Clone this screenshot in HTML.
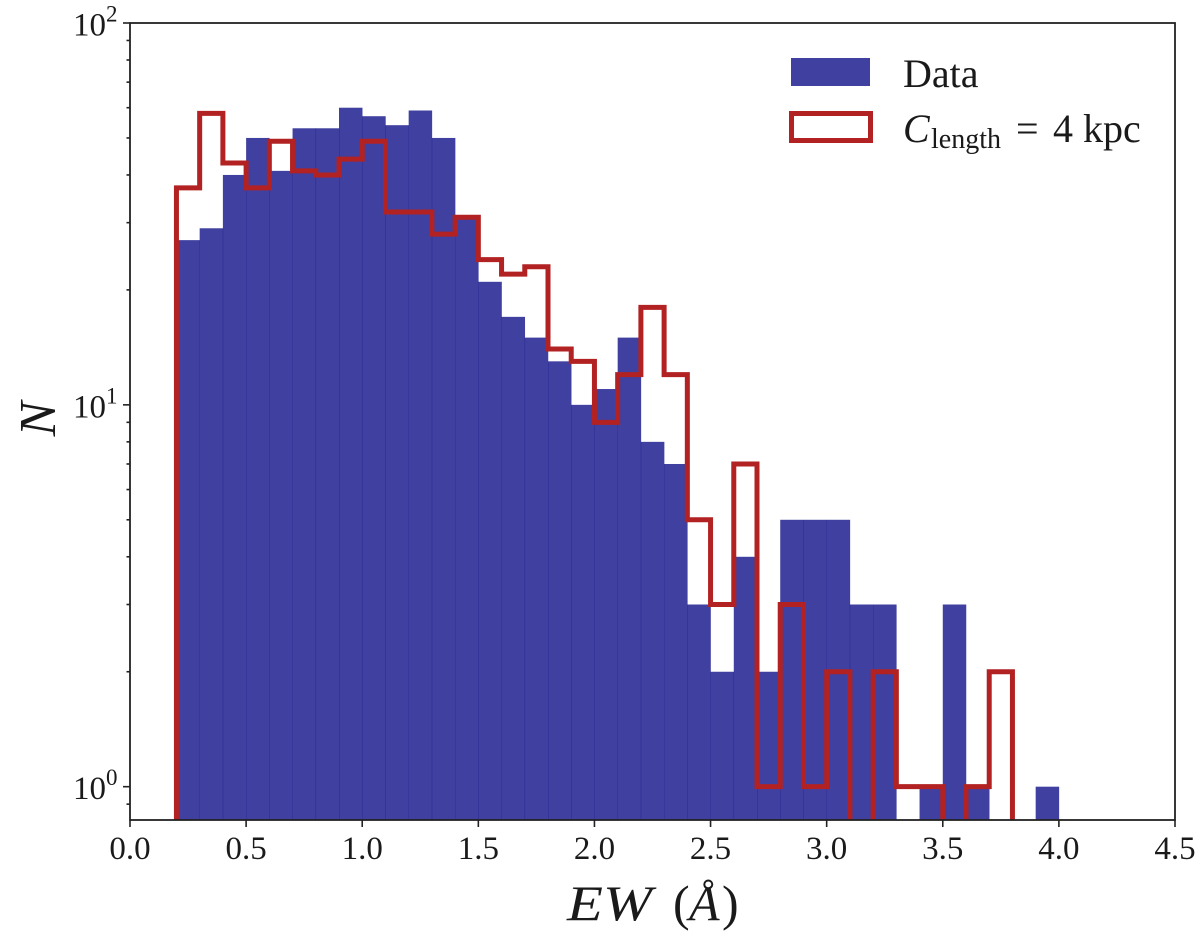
<!DOCTYPE html>
<html lang="en">
<head>
<meta charset="utf-8">
<title>EW histogram</title>
<style>
html,body{margin:0;padding:0;background:#fff;}
svg{display:block;}
text{font-family:"Liberation Serif",serif;fill:#1a1a1a;}
</style>
</head>
<body>
<svg id="chart" xmlns="http://www.w3.org/2000/svg" width="1200" height="942" viewBox="0 0 1200 942">
  <defs><clipPath id="plot-clip"><rect x="130" y="23" width="1045" height="797"></rect></clipPath></defs>
  <rect x="0" y="0" width="1200" height="942" fill="#fff"></rect>
  <g id="bars" clip-path="url(#plot-clip)"></g>
  <path id="step" clip-path="url(#plot-clip)" fill="none" stroke="#b22222" stroke-width="5" stroke-linejoin="miter"></path>
  <g id="ticks"></g>
  <rect x="130" y="23" width="1045" height="797" fill="none" stroke="#222" stroke-width="1.8"></rect>
  <text y="920" font-size="50"><tspan x="567" font-style="italic" textLength="85" lengthAdjust="spacingAndGlyphs">EW</tspan><tspan x="673">(</tspan><tspan x="689" font-style="italic">Å</tspan><tspan x="722">)</tspan></text>
  <text transform="translate(55,419) rotate(-90)" font-size="52" text-anchor="middle" font-style="italic">N</text>
  <g>
    <rect x="791" y="58" width="79" height="28" fill="#000080" fill-opacity="0.75"></rect>
    <text x="903" y="87" font-size="40">Data</text>
    <rect x="791.5" y="113.5" width="79" height="27" fill="none" stroke="#b22222" stroke-width="5"></rect>
    <text y="142" font-size="40"><tspan x="903" font-style="italic">C</tspan><tspan x="931" y="148" font-size="28">length</tspan><tspan x="1016" y="142">=</tspan><tspan x="1053">4</tspan><tspan x="1083">kpc</tspan></text>
  </g>
</svg>
<script>
const binStarts = [0.2,0.3,0.4,0.5,0.6,0.7,0.8,0.9,1.0,1.1,1.2,1.3,1.4,1.5,1.6,1.7,1.8,1.9,2.0,2.1,2.2,2.3,2.4,2.5,2.6,2.7,2.8,2.9,3.0,3.1,3.2,3.3,3.4,3.5,3.6,3.7,3.8,3.9];
const dataCounts = [27,29,40,50,41,53,53,60,57,54,59,50,31,21,17,15,13,10,11,15,8,7,3,2,4,2,5,5,5,3,3,0,1,3,1,0,0,1];
const modelCounts = [37,58,43,37,49,41,40,44,49,32,32,28,31,24,22,23,14,13,9,12,18,12,5,3,7,1,3,1,2,0,2,1,1,0,1,2,0,0];
const binWidth = 0.1;
const xTicks = [0,0.5,1,1.5,2,2.5,3,3.5,4,4.5];
const xTickLabels = ["0.0","0.5","1.0","1.5","2.0","2.5","3.0","3.5","4.0","4.5"];
const yMajorTicks = [1,10,100];
const yTickExponents = ["0","1","2"];
const yMinorTicks = [0.9,2,3,4,5,6,7,8,9,20,30,40,50,60,70,80,90];

const svgNS = "http://www.w3.org/2000/svg";
const plotLeft = 130, plotRight = 1175, plotTop = 23, plotBottom = 820;
const xMax = 4.5, yMin = 0.818, yMax = 100;
function xScale(v){ return plotLeft + (plotRight - plotLeft) * v / xMax; }
function yScale(v){
  if (v <= 0) return plotBottom + 20;
  return plotBottom - (plotBottom - plotTop) * (Math.log10(v) - Math.log10(yMin)) / (Math.log10(yMax) - Math.log10(yMin));
}
const barsGroup = document.getElementById("bars");
binStarts.forEach(function(start, i){
  if (dataCounts[i] <= 0) return;
  const r = document.createElementNS(svgNS, "rect");
  
  
  const x0 = xScale(start), x1 = xScale(start + binWidth), yt = yScale(dataCounts[i]);
  r.setAttribute("x", x0);
  r.setAttribute("y", yt);
  r.setAttribute("width", x1 - x0 + 0.25);
  r.setAttribute("height", plotBottom - yt);
  r.setAttribute("fill", "#000080");
  r.setAttribute("fill-opacity", "0.75");
  barsGroup.appendChild(r);
});
let d = "M" + xScale(binStarts[0]) + " " + (plotBottom + 20);
binStarts.forEach(function(start, i){
  const y = yScale(modelCounts[i]);
  d += " L" + xScale(start) + " " + y + " L" + xScale(start + binWidth) + " " + y;
});
document.getElementById("step").setAttribute("d", d);

const ticks = document.getElementById("ticks");
function tickLine(x1, y1, x2, y2, name){
  const l = document.createElementNS(svgNS, "line");
  
  
  l.setAttribute("x1", x1);
  l.setAttribute("y1", y1);
  l.setAttribute("x2", x2);
  l.setAttribute("y2", y2);
  l.setAttribute("stroke", "#222");
  l.setAttribute("stroke-width", "1.6");
  ticks.appendChild(l);
}
xTicks.forEach(function(v, i){
  const x = xScale(v);
  tickLine(x, plotBottom, x, plotBottom + 7, "x-tick");
  const t = document.createElementNS(svgNS, "text");
  
  
  t.setAttribute("x", x);
  t.setAttribute("y", 859);
  t.setAttribute("font-size", "33");
  t.setAttribute("text-anchor", "middle");
  t.textContent = xTickLabels[i];
  ticks.appendChild(t);
});
yMinorTicks.forEach(function(v){
  const y = yScale(v);
  tickLine(plotLeft - 3.5, y, plotLeft, y, "y-minor-tick");
});
yMajorTicks.forEach(function(v, i){
  const y = yScale(v);
  tickLine(plotLeft - 7, y, plotLeft, y, "y-major-tick");
  const t = document.createElementNS(svgNS, "text");
  
  
  t.setAttribute("x", 73);
  t.setAttribute("y", y + 12.5);
  t.setAttribute("font-size", "33");
  t.appendChild(document.createTextNode("10"));
  const sup = document.createElementNS(svgNS, "tspan");
  sup.setAttribute("font-size", "23");
  sup.setAttribute("dy", "-14");
  sup.textContent = yTickExponents[i];
  t.appendChild(sup);
  ticks.appendChild(t);
});
</script>
</body>
</html>
